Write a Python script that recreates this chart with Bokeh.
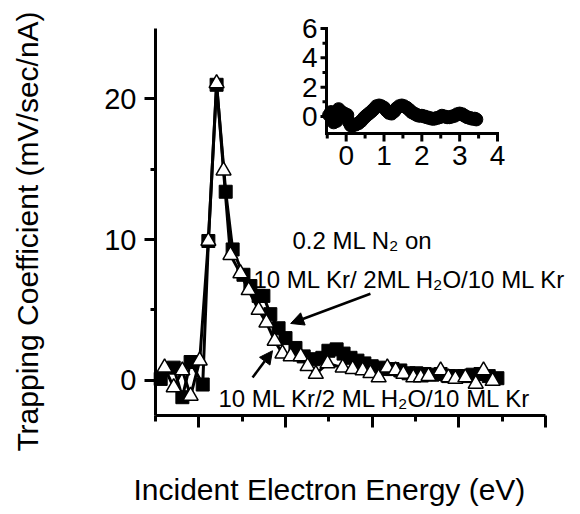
import numpy as np
from bokeh.plotting import figure
from bokeh.models import Range1d, FixedTicker, Label, Arrow, NormalHead
from bokeh.core.properties import value
from bokeh.embed import file_html
from bokeh.resources import INLINE

# ---- data ----
sq_energy = [-0.88, -0.58, -0.38, -0.19, 0.09, 0.22, 0.41, 0.62, 0.78, 1.03, 1.19, 1.38, 1.49,
             1.65, 1.84, 2.00, 2.23, 2.42, 2.65, 2.85, 2.99, 3.18, 3.34, 3.50, 3.66, 3.82, 3.99,
             4.15, 4.31, 4.47, 4.65, 4.84, 5.02, 5.21, 5.39, 5.58, 5.76, 5.95, 6.13, 6.32, 6.50,
             6.69, 6.89]
sq_trap = [0.1, 0.9, -1.2, 1.3, -0.3, 9.9, 21.0, 13.4, 9.3, 7.5, 6.7, 6.0, 6.0,
           4.7, 3.7, 3.0, 2.3, 1.7, 1.5, 1.6, 2.1, 2.2, 1.9, 1.6, 1.4, 1.2, 1.0,
           0.9, 0.8, 0.8, 0.7, 0.5, 0.5, 0.45, 0.4, 0.45, 0.3, 0.3, 0.3, 0.4, 0.45,
           0.3, 0.15]

tri_energy = [-0.79, -0.58, -0.38, -0.19, 0.02, 0.22, 0.41, 0.57, 0.73, 0.96, 1.15, 1.38, 1.56,
              1.75, 1.93, 2.12, 2.35, 2.51, 2.70, 2.97, 3.32, 3.55, 3.78, 3.96, 4.15, 4.35,
              4.54, 4.72, 4.95, 5.12, 5.30, 5.58, 5.76, 5.92, 6.15, 6.39, 6.57, 6.78]
tri_trap = [0.9, -0.5, 0.7, -1.1, 1.4, 9.9, 21.1, 14.9, 8.9, 7.6, 6.4, 5.0, 4.1,
            2.8, 1.9, 1.7, 1.7, 1.0, 0.45, 1.2, 0.9, 0.8, 0.7, 0.5, 0.2, 0.9,
            0.7, 0.45, 0.2, 0.2, 0.3, 0.7, 0.2, 0.1, 0.2, -0.25, 0.7, -0.05]

inset_energy = [-0.45, -0.40, -0.33, -0.25, -0.20, -0.12, -0.05, 0.03, 0.08, 0.12, 0.18, 0.25,
                0.33, 0.40, 0.47, 0.53, 0.60, 0.67, 0.73, 0.80, 0.87, 0.93, 1.00, 1.07, 1.13,
                1.20, 1.27, 1.33, 1.40, 1.47, 1.53, 1.60, 1.67, 1.73, 1.80, 1.87, 1.93, 2.00,
                2.07, 2.13, 2.20, 2.27, 2.33, 2.40, 2.47, 2.53, 2.60, 2.67, 2.73, 2.80, 2.87,
                2.93, 3.00, 3.07, 3.13, 3.20, 3.27, 3.33, 3.40, 3.44]
inset_trap = [0.1, 0.3, -0.4, -0.3, 0.5, 0.3, 0.2, 0.1, -0.4, -0.6, -0.6, -0.55,
              -0.45, -0.3, -0.1, 0.05, 0.2, 0.35, 0.5, 0.7, 0.75, 0.7, 0.6, 0.4, 0.25,
              0.2, 0.35, 0.55, 0.7, 0.75, 0.7, 0.6, 0.45, 0.3, 0.2, 0.1, 0.05, 0.05,
              0.0, -0.05, -0.1, -0.15, -0.15, -0.1, -0.05, 0.05, 0.0, -0.05, -0.05, 0.0, 0.05,
              0.15, 0.2, 0.15, 0.05, -0.05, -0.1, -0.15, -0.15, -0.2]

main_x_bounds = (-1, 8)
main_y_bounds = (-2.5, 25)
main_xticks = [0, 2, 4, 6, 8]
main_xminor = [-1, 1, 3, 5, 7]
main_yticks = [0, 10, 20]
main_yminor = [5, 15]

inset_x_bounds = (-0.52, 4.0)
inset_y_bounds = (-1.16, 6.0)
inset_xticks = [0, 1, 2, 3, 4]
inset_xminor = [-0.5, 0.5, 1.5, 2.5, 3.5]
inset_yticks = [0, 2, 4, 6]
inset_yminor = [1, 3, 5]
inset_xlabels = ["0", "1", "2", "3", "4"]
inset_ylabels = ["0", "2", "4", "6"]

x_title = "Incident Electron Energy (eV)"
y_title = "Trapping Coefficient (mV/sec/nA)"
note1 = "0.2 ML N\u2082 on"
note2 = "10 ML Kr/ 2ML H\u2082O/10 ML Kr"
note3 = "10 ML Kr/2 ML H\u2082O/10 ML Kr"

FONT = "Liberation Sans"

# ---- page geometry (pixels) ----
W, H = 580, 514
AX_L, AX_R, AX_T, AX_B = 155, 545, 28, 415   # main axes box
IN_L, IN_R, IN_T, IN_B = 326, 497, 28, 133   # inset axes box


def span(lo, hi, plo, phi, full):
    ppu = (phi - plo) / (hi - lo)
    return lo - plo / ppu, hi + (full - phi) / ppu


mx0, mx1 = span(main_x_bounds[0], main_x_bounds[1], AX_L, AX_R, W)
my0, my1 = span(main_y_bounds[0], main_y_bounds[1], H - AX_B, H - AX_T, H)
ix0, ix1 = span(inset_x_bounds[0], inset_x_bounds[1], IN_L, IN_R, W)
iy0, iy1 = span(inset_y_bounds[0], inset_y_bounds[1], H - IN_B, H - IN_T, H)


def px(sx, sy):
    """page pixel -> main data coordinates (for placing annotations)"""
    return mx0 + sx * (mx1 - mx0) / W, my1 - sy * (my1 - my0) / H


def style_axis(ax, tick_out, minor_out):
    ax.axis_line_width = 3
    ax.axis_line_color = "black"
    ax.major_tick_line_width = 3
    ax.minor_tick_line_width = 3
    ax.major_tick_line_color = "black"
    ax.minor_tick_line_color = "black"
    ax.major_tick_in = 0
    ax.minor_tick_in = 0
    ax.major_tick_out = tick_out
    ax.minor_tick_out = minor_out
    ax.major_label_text_font = FONT
    ax.major_label_text_color = "black"


p = figure(width=W, height=H, x_range=Range1d(mx0, mx1), y_range=Range1d(my0, my1),
           output_backend="svg", toolbar_location=None,
           min_border_left=0, min_border_right=0, min_border_top=0, min_border_bottom=0)
p.xgrid.visible = False
p.ygrid.visible = False
p.outline_line_color = None
p.extra_x_ranges = {"ix": Range1d(ix0, ix1)}
p.extra_y_ranges = {"iy": Range1d(iy0, iy1)}

style_axis(p.yaxis[0], 11, 5)
p.yaxis.fixed_location = main_x_bounds[0]
p.yaxis.bounds = main_y_bounds
p.yaxis.ticker = FixedTicker(ticks=main_yticks, minor_ticks=main_yminor)
p.yaxis.major_label_text_font_size = "29px"
p.yaxis.major_label_standoff = 8

style_axis(p.xaxis[0], 12, 6)
p.xaxis.fixed_location = main_y_bounds[0]
p.xaxis.bounds = main_x_bounds
p.xaxis.ticker = FixedTicker(ticks=main_xticks, minor_ticks=main_xminor)
p.xaxis.major_label_overrides = {t: "" for t in main_xticks}

# main series
p.line(sq_energy, sq_trap, line_width=3, line_color="black")
p.scatter(sq_energy, sq_trap, marker="square", size=13, fill_color="black", line_color="black")
p.line(tri_energy, tri_trap, line_width=3, line_color="black")
p.scatter(tri_energy, tri_trap, marker="triangle", size=15, fill_color="white",
          line_color="black", line_width=1.5)

# axis titles
tx, ty = px(133, 489)
p.add_layout(Label(x=tx, y=ty, text=x_title, text_font=FONT, text_font_size="30px",
                   text_align="left", text_baseline="middle", text_color="black"))
tx, ty = px(27, 231)
p.add_layout(Label(x=tx, y=ty, text=y_title, text_font=FONT, text_font_size="30px",
                   angle=np.pi / 2, text_align="center", text_baseline="middle",
                   text_color="black"))

# annotations (positions in page pixels: left edge, vertical centre)
for txt, sx, sy in [(note1, 292, 240), (note2, 253, 279), (note3, 218, 398)]:
    lx, ly = px(sx, sy)
    p.add_layout(Label(x=lx, y=ly, text=txt, text_font=FONT, text_font_size="24px",
                       text_align="left", text_baseline="middle", text_color="black"))

p.add_layout(Arrow(end=NormalHead(size=13, fill_color="black", line_color="black"),
                   x_start=3.96, y_start=6.15, x_end=2.12, y_end=4.04,
                   line_width=2.5, line_color="black"))
p.add_layout(Arrow(end=NormalHead(size=13, fill_color="black", line_color="black"),
                   x_start=1.24, y_start=0.2, x_end=1.70, y_end=2.1,
                   line_width=2.5, line_color="black"))

# ---- inset (drawn on its own ranges inside the same frame) ----
ikw = dict(x_range_name="ix", y_range_name="iy")
xb0, xb1 = inset_x_bounds
yb0, yb1 = inset_y_bounds
p.segment(x0=[xb0, xb0], y0=[yb0, yb0], x1=[xb0, xb1], y1=[yb1, yb0],
          line_width=3, line_color="black", line_cap="square", **ikw)
p.ray(x=[xb0] * len(inset_yticks), y=inset_yticks, length=6, angle=np.pi,
      length_units="screen", line_width=3, line_color="black", **ikw)
p.ray(x=[xb0] * len(inset_yminor), y=inset_yminor, length=4, angle=np.pi,
      length_units="screen", line_width=3, line_color="black", **ikw)
p.ray(x=inset_xticks, y=[yb0] * len(inset_xticks), length=8, angle=-np.pi / 2,
      length_units="screen", line_width=3, line_color="black", **ikw)
p.ray(x=inset_xminor, y=[yb0] * len(inset_xminor), length=5, angle=-np.pi / 2,
      length_units="screen", line_width=3, line_color="black", **ikw)
p.text(x=[xb0] * len(inset_yticks), y=inset_yticks, text=inset_ylabels, x_offset=-9,
       text_align="right", text_baseline="middle", text_font=value(FONT),
       text_font_size="28px", text_color="black", **ikw)
p.text(x=inset_xticks, y=[yb0] * len(inset_xticks), text=inset_xlabels, y_offset=12,
       text_align="center", text_baseline="top", text_font=value(FONT),
       text_font_size="28px", text_color="black", **ikw)
p.scatter(inset_energy, inset_trap, marker="circle", size=13, fill_color="black",
          line_color="black", **ikw)

open("out.html", "w").write(file_html(p, INLINE))
